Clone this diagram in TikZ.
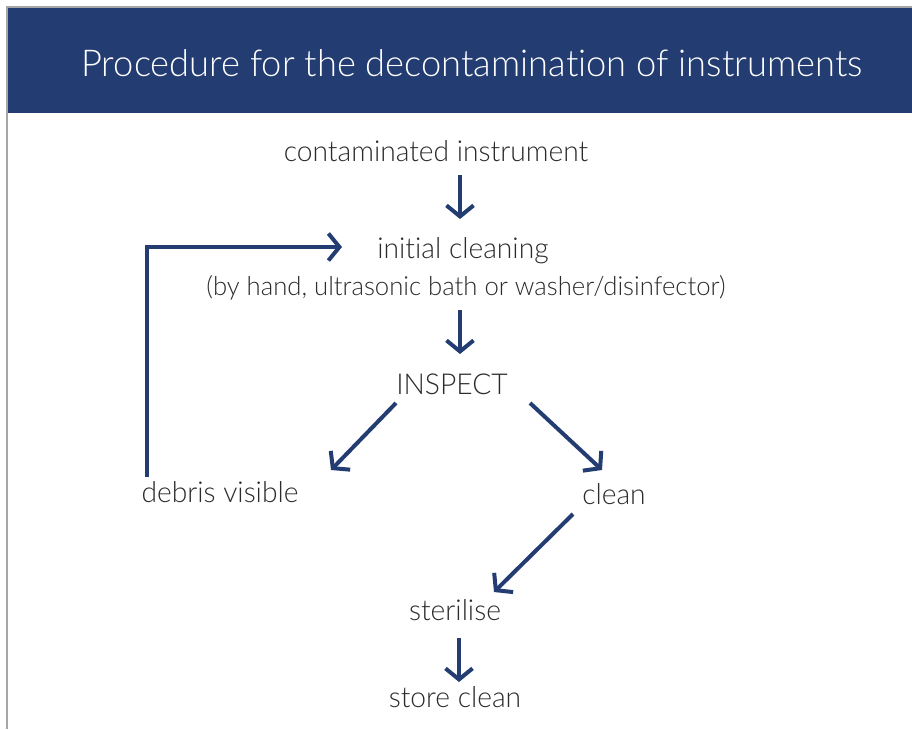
\documentclass[tikz,border=0pt]{standalone}
\usepackage{fontspec}
\setmainfont{Lato}[UprightFont={* Light},FakeStretch=0.98,Ligatures=NoCommon]
\usetikzlibrary{arrows.meta}
\definecolor{navy}{HTML}{233C71}
\definecolor{txt}{HTML}{2B2B2B}
\begin{document}
\begin{tikzpicture}[x=1pt,y=-1pt,
  lbl/.style={text=txt,font=\fontsize{28.8}{32}\selectfont,inner sep=0pt,anchor=center},
  flow/.style={draw=navy,line width=4pt,-{Straight Barb[length=11pt,width=27pt,line width=4pt]}}]
\useasboundingbox (0,0) rectangle (912,729);
\fill[white] (0,0) rectangle (912,729);
\fill[navy] (8,8) rectangle (912,113);
\draw[gray!70,line width=1.2pt] (7,729) -- (7,7) -- (912,7);
\node[text=white,font=\fontsize{37}{41}\selectfont,inner sep=0pt] (title) at (472,63) {Procedure for the decontamination of instruments};
\node[lbl] (cont) at (436,151) {contaminated instrument};
\node[lbl] (init) at (463,251) {initial cleaning};
\node[lbl,font=\fontsize{26.2}{30}\selectfont] (by) at (466,288) {(by hand, ultrasonic bath or washer/disinfector)};
\node[lbl] (insp) at (452,384) {INSPECT};
\node[lbl] (debris) at (220,492) {debris visible};
\node[lbl] (clean) at (614,494) {clean};
\node[lbl] (steril) at (455,610) {sterilise};
\node[lbl] (store) at (455,697) {store clean};
\coordinate (a1s) at (460,175); \coordinate (a1e) at (460,219);
\coordinate (a2s) at (460,310); \coordinate (a2e) at (460,354);
\coordinate (a3s) at (396,403); \coordinate (a3e) at (331,470);
\coordinate (a4s) at (530,403); \coordinate (a4e) at (602,470);
\coordinate (a5s) at (573,514); \coordinate (a5e) at (494,592);
\coordinate (a6s) at (459,638); \coordinate (a6e) at (459,682);
\coordinate (fb0) at (147,477); \coordinate (fb1) at (147,247); \coordinate (fb2) at (342,247);
\draw[flow] (a1s) -- (a1e);
\draw[flow] (a2s) -- (a2e);
\draw[flow] (a3s) -- (a3e);
\draw[flow] (a4s) -- (a4e);
\draw[flow] (a5s) -- (a5e);
\draw[flow] (a6s) -- (a6e);
\draw[flow] (fb0) -- (fb1) -- (fb2);
\end{tikzpicture}
\end{document}
